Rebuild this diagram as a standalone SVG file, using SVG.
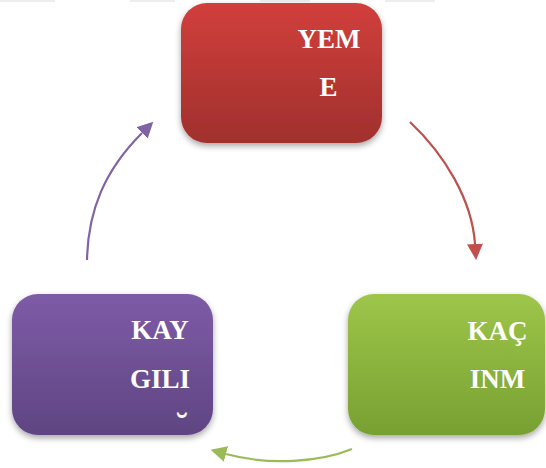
<svg xmlns="http://www.w3.org/2000/svg" width="546" height="468" viewBox="0 0 546 468">
<defs>
<linearGradient id="gRed" x1="0" y1="0" x2="0" y2="1"><stop offset="0" stop-color="#D13F3C"/><stop offset="1" stop-color="#A0302D"/></linearGradient>
<linearGradient id="gPur" x1="0" y1="0" x2="0" y2="1"><stop offset="0" stop-color="#7E5BA7"/><stop offset="1" stop-color="#5F4582"/></linearGradient>
<linearGradient id="gGrn" x1="0" y1="0" x2="0" y2="1"><stop offset="0" stop-color="#9EC64A"/><stop offset="1" stop-color="#77A032"/></linearGradient>
<filter id="sh" x="-10%" y="-10%" width="120%" height="130%"><feDropShadow dx="0" dy="3" stdDeviation="3" flood-color="#000" flood-opacity="0.35"/></filter>
<marker id="mRed" viewBox="0 0 10 10" refX="0" refY="5" markerUnits="userSpaceOnUse" markerWidth="16" markerHeight="16" orient="auto"><path d="M0,0 L10,5 L0,10 z" fill="#C0504D"/></marker>
<marker id="mPur" viewBox="0 0 10 10" refX="0" refY="5" markerUnits="userSpaceOnUse" markerWidth="16" markerHeight="16" orient="auto"><path d="M0,0 L10,5 L0,10 z" fill="#8064A2"/></marker>
<marker id="mGrn" viewBox="0 0 10 10" refX="0" refY="5" markerUnits="userSpaceOnUse" markerWidth="16" markerHeight="16" orient="auto"><path d="M0,0 L10,5 L0,10 z" fill="#9BBB59"/></marker>
</defs>
<style>
.lbl{font-family:"Liberation Serif","Times New Roman","DejaVu Serif",serif;font-weight:bold;font-size:27px;fill:#fff;text-anchor:middle}
.brv{font-size:34px}
.conn{fill:none;stroke-width:2.2}
</style>
<g id="topstrip" fill="#eeeeee">
<rect x="0" y="0" width="55" height="2"/><rect x="130" y="0" width="45" height="2"/><rect x="260" y="0" width="50" height="2"/><rect x="385" y="0" width="50" height="2"/>
</g>
<g id="connectors">
<path class="conn" stroke="#C0504D" d="M410,122 C445,155 472,200 475,244" marker-end="url(#mRed)"/>
<path class="conn" stroke="#9BBB59" d="M352,449 C320,462 270,466 226,454" marker-end="url(#mGrn)"/>
<path class="conn" stroke="#8064A2" d="M87,260 C88,210 105,170 142,133" marker-end="url(#mPur)"/>
</g>
<g id="node-yeme">
<rect x="181" y="3" width="201" height="140" rx="26" fill="url(#gRed)" filter="url(#sh)"/>
<text class="lbl" x="329" y="48">YEM</text>
<text class="lbl" x="328.5" y="96">E</text>
</g>
<g id="node-kacinma">
<rect x="348" y="294" width="197" height="141" rx="26" fill="url(#gGrn)" filter="url(#sh)"/>
<text class="lbl" x="497.5" y="340">KAÇ</text>
<text class="lbl" x="497.5" y="388">INM</text>
</g>
<g id="node-kaygi">
<rect x="12" y="294" width="201" height="141" rx="26" fill="url(#gPur)" filter="url(#sh)"/>
<text class="lbl" x="160" y="339">KAY</text>
<text class="lbl" x="160" y="388">GILI</text>
<text class="lbl brv" x="182" y="437">˘</text>
</g>
</svg>
